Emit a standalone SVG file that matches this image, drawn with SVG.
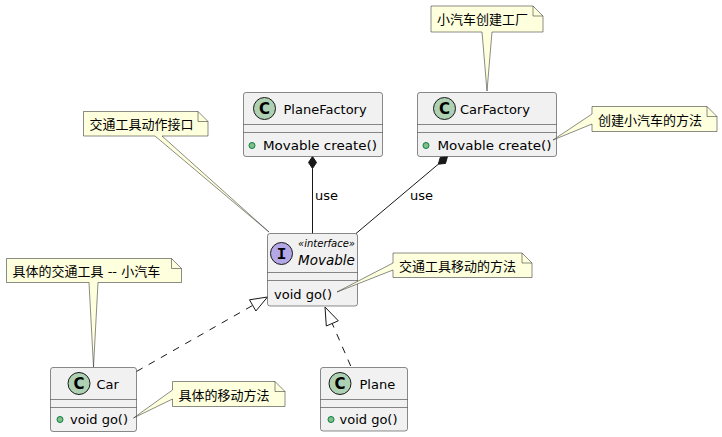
<svg xmlns="http://www.w3.org/2000/svg" width="722" height="437" viewBox="0 0 722 437">
<style>
.box{fill:#F1F1F1;stroke:#181818;stroke-width:0.5}
.sep{stroke:#181818;stroke-width:0.5}
.note{fill:#FEFFDD;stroke:#181818;stroke-width:0.5}
.fold{fill:none;stroke:#181818;stroke-width:0.5}
.t{font-family:"DejaVu Sans","Noto Sans CJK SC",sans-serif;font-size:13px;fill:#000}
.nt{font-family:"DejaVu Sans","Noto Sans CJK SC",sans-serif;font-size:13px;fill:#000}
.cc{fill:#ADD1B2;stroke:#181818;stroke-width:1}
.ic{fill:#B4A7E5;stroke:#181818;stroke-width:1}
.cl{font-family:"DejaVu Sans",sans-serif;font-size:15px;font-weight:bold;fill:#000;text-anchor:middle}
.dot{fill:#84BE84;stroke:#038048;stroke-width:1}
.ln{stroke:#181818;stroke-width:1;fill:none}
.dash{stroke:#181818;stroke-width:1;fill:none;stroke-dasharray:7,7}
</style>

<g id="connectors">
  <line class="ln" x1="312.5" y1="168.5" x2="312.5" y2="233.5"/>
  <polygon points="312.5,156.5 316.5,162.5 312.5,168.5 308.5,162.5" fill="#181818" stroke="#181818"/>
  <text class="t" x="315" y="200">use</text>
  <line class="ln" x1="438.3" y1="164.2" x2="356" y2="233.5"/>
  <polygon points="447.5,156.5 445.5,163.4 438.3,164.2 440.3,157.3" fill="#181818" stroke="#181818"/>
  <text class="t" x="410" y="200">use</text>
  <line class="dash" x1="136.5" y1="371.5" x2="252.7" y2="305.4"/>
  <polygon points="267.5,297 255.9,311 249.5,299.8" fill="none" stroke="#181818"/>
  <line class="dash" x1="350.7" y1="366" x2="332.2" y2="323.5"/>
  <polygon points="325,307 338.3,320.8 326.3,326" fill="none" stroke="#181818"/>
</g>

<g id="PlaneFactory">
  <rect class="box" x="243.5" y="92.5" width="139" height="64" rx="2.5"/>
  <line class="sep" x1="243.5" y1="124.5" x2="382.5" y2="124.5"/>
  <line class="sep" x1="243.5" y1="132.5" x2="382.5" y2="132.5"/>
  <circle class="cc" cx="264.5" cy="108.5" r="11"/>
  <text class="cl" x="264.5" y="113.8">C</text>
  <text class="t" x="283.5" y="113.5">PlaneFactory</text>
  <circle class="dot" cx="252" cy="145.5" r="3"/>
  <text class="t" x="263" y="150" textLength="114" lengthAdjust="spacingAndGlyphs">Movable create()</text>
</g>

<g id="CarFactory">
  <rect class="box" x="417.5" y="92.5" width="139" height="64" rx="2.5"/>
  <line class="sep" x1="417.5" y1="124.5" x2="556.5" y2="124.5"/>
  <line class="sep" x1="417.5" y1="132.5" x2="556.5" y2="132.5"/>
  <circle class="cc" cx="444.5" cy="108.5" r="11"/>
  <text class="cl" x="444.5" y="113.8">C</text>
  <text class="t" x="460" y="113.5">CarFactory</text>
  <circle class="dot" cx="426" cy="145.5" r="3"/>
  <text class="t" x="437.5" y="150" textLength="114" lengthAdjust="spacingAndGlyphs">Movable create()</text>
</g>

<g id="Movable">
  <rect class="box" x="267.5" y="233.5" width="90" height="72.5" rx="2.5"/>
  <line class="sep" x1="267.5" y1="272.5" x2="357.5" y2="272.5"/>
  <line class="sep" x1="267.5" y1="280.5" x2="357.5" y2="280.5"/>
  <circle class="ic" cx="281.5" cy="253.5" r="11"/>
  <text x="281.5" y="259" style="font-family:'Liberation Mono',monospace;font-size:16px;font-weight:bold;text-anchor:middle">I</text>
  <text x="298" y="246.5" textLength="57" lengthAdjust="spacingAndGlyphs" style="font-family:'DejaVu Sans',sans-serif;font-size:10.5px;font-style:italic">«interface»</text>
  <text x="298" y="265" style="font-family:'DejaVu Sans',sans-serif;font-size:13.5px;font-style:italic">Movable</text>
  <text class="t" x="274" y="299">void go()</text>
</g>

<g id="Car">
  <rect class="box" x="50.5" y="367.5" width="86" height="64" rx="2.5"/>
  <line class="sep" x1="50.5" y1="399.5" x2="136.5" y2="399.5"/>
  <line class="sep" x1="50.5" y1="407.5" x2="136.5" y2="407.5"/>
  <circle class="cc" cx="79" cy="383.5" r="11"/>
  <text class="cl" x="79" y="388.8">C</text>
  <text class="t" x="96.5" y="388.5">Car</text>
  <circle class="dot" cx="60" cy="419.5" r="3"/>
  <text class="t" x="70" y="424">void go()</text>
</g>

<g id="Plane">
  <rect class="box" x="320.5" y="367.5" width="87" height="63.5" rx="2.5"/>
  <line class="sep" x1="320.5" y1="399.5" x2="407.5" y2="399.5"/>
  <line class="sep" x1="320.5" y1="407.5" x2="407.5" y2="407.5"/>
  <circle class="cc" cx="340" cy="383.5" r="11"/>
  <text class="cl" x="340" y="388.8">C</text>
  <text class="t" x="359.5" y="388.5">Plane</text>
  <circle class="dot" cx="331" cy="419.5" r="3"/>
  <text class="t" x="339.5" y="424">void go()</text>
</g>

<g id="note_carfactory">
  <path class="note" d="M431,6 H533 L543,16 V32 H492 L487,91 L482,32 H431 Z"/>
  <path class="fold" d="M533,6 V16 H543"/>
  <text class="nt" x="437" y="24">小汽车创建工厂</text>
</g>

<g id="note_create">
  <path class="note" d="M592,106.5 H707 L717,116.5 V131.5 H592 V124 L553,140 L592,114 Z"/>
  <path class="fold" d="M707,106.5 V116.5 H717"/>
  <text class="nt" x="598" y="124.5">创建小汽车的方法</text>
</g>

<g id="note_movable">
  <path class="note" d="M83.5,111.5 H198 L208,121.5 V136 H162 L269,232 L155,136 H83.5 Z"/>
  <path class="fold" d="M198,111.5 V121.5 H208"/>
  <text class="nt" x="89.5" y="129">交通工具动作接口</text>
</g>

<g id="note_go">
  <path class="note" d="M393,253 H522 L532,263 V277.5 H393 V270 L337,292 L393,263 Z"/>
  <path class="fold" d="M522,253 V263 H532"/>
  <text class="nt" x="399" y="271">交通工具移动的方法</text>
</g>

<g id="note_car">
  <path class="note" d="M6.5,258.5 H171.5 L181.5,268.5 V282.5 H98 L93.5,367 L89,282.5 H6.5 Z"/>
  <path class="fold" d="M171.5,258.5 V268.5 H181.5"/>
  <text class="nt" x="12.5" y="276">具体的交通工具 -- 小汽车</text>
</g>

<g id="note_cargo">
  <path class="note" d="M172.5,381.5 H275 L285,391.5 V406.5 H172.5 V399 L133.5,418 L172.5,390 Z"/>
  <path class="fold" d="M275,381.5 V391.5 H285"/>
  <text class="nt" x="178.5" y="399.5">具体的移动方法</text>
</g>
</svg>
